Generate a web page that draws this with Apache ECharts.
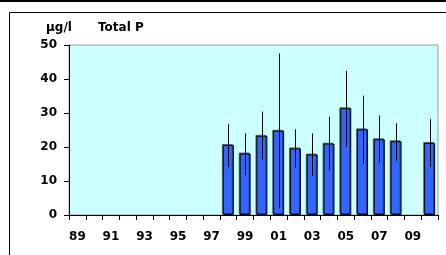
<!DOCTYPE html>
<html>
<head>
<meta charset="utf-8">
<script src="https://cdn.jsdelivr.net/npm/echarts@6/dist/echarts.min.js"></script>
<style>
  html, body { margin: 0; padding: 0; background: #fff; }
  #chart { width: 446px; height: 255px; }
</style>
</head>
<body>
<div id="chart"></div>
<script>
  // years 1989 - 2010
  const years = ['89','90','91','92','93','94','95','96','97','98','99','00','01','02','03','04','05','06','07','08','09','10'];
  // mean Total P (µg/l)
  const meanP = [null,null,null,null,null,null,null,null,null,20.6,18.1,23.3,24.8,19.6,17.8,21.0,31.4,25.2,22.3,21.7,null,21.2];
  // error bar low / high
  const lowP  = [null,null,null,null,null,null,null,null,null,14.2,11.8,16.4,2.0,13.9,11.5,13.2,20.1,15.0,15.4,16.0,null,14.2];
  const highP = [null,null,null,null,null,null,null,null,null,26.8,24.0,30.4,47.5,25.2,24.0,28.9,42.4,35.1,29.3,27.0,null,28.2];
  const yTicks = [0, 10, 20, 30, 40, 50];

  const errData = years.map((y, i) => [i, lowP[i], highP[i]]).filter(d => d[1] != null);

  const chart = echarts.init(document.getElementById('chart'));
  const lblFont = { fontFamily: 'DejaVu Sans', fontWeight: 'bold', fontSize: 12, color: '#000' };

  chart.setOption({
    animation: false,
    grid: {
      left: 69, right: 8, top: 45, bottom: 40,
      show: true,
      backgroundColor: '#ccffff',
      borderColor: '#999',
      borderWidth: 1
    },
    graphic: [
      { type: 'line', shape: { x1: 0, y1: 1, x2: 446, y2: 1 }, style: { stroke: '#000', lineWidth: 2 } },
      { type: 'rect', shape: { x: 9.5, y: 12.5, width: 500, height: 300 }, style: { fill: null, stroke: '#000', lineWidth: 1 } },
      { type: 'text', left: 46, top: 22, style: { text: 'µg/l', font: 'bold 12px DejaVu Sans', fill: '#000' } },
      { type: 'text', left: 98, top: 22, style: { text: 'Total P', font: 'bold 12px DejaVu Sans', fill: '#000' } }
    ],
    xAxis: {
      type: 'category',
      data: years,
      boundaryGap: true,
      axisLine: { lineStyle: { color: '#000', width: 1 } },
      axisTick: { show: true, interval: 0, alignWithLabel: false, length: 5, lineStyle: { color: '#000' } },
      axisLabel: Object.assign({ interval: 1, margin: 16 }, lblFont),
      splitLine: { show: false }
    },
    yAxis: {
      type: 'value',
      min: yTicks[0],
      max: yTicks[yTicks.length - 1],
      interval: 10,
      axisLine: { show: true, lineStyle: { color: '#000', width: 1 } },
      axisTick: { show: true, length: 5, lineStyle: { color: '#000' } },
      axisLabel: Object.assign({ margin: 12 }, lblFont),
      splitLine: { show: false }
    },
    series: [
      {
        type: 'bar',
        data: meanP,
        barWidth: 11,
        itemStyle: {
          color: '#3366ff',
          borderColor: '#000',
          borderWidth: 1,
          shadowColor: 'rgba(0,0,0,0.45)',
          shadowOffsetX: -1,
          shadowOffsetY: -1,
          shadowBlur: 0
        }
      },
      {
        type: 'custom',
        data: errData,
        z: 5,
        renderItem: function (params, api) {
          const x = api.value(0);
          const lo = api.coord([x, api.value(1)]);
          const hi = api.coord([x, api.value(2)]);
          return {
            type: 'line',
            shape: { x1: Math.round(lo[0]) + 0.5, y1: lo[1], x2: Math.round(hi[0]) + 0.5, y2: hi[1] },
            style: { stroke: '#000', lineWidth: 1 }
          };
        }
      }
    ]
  });
</script>
</body>
</html>
